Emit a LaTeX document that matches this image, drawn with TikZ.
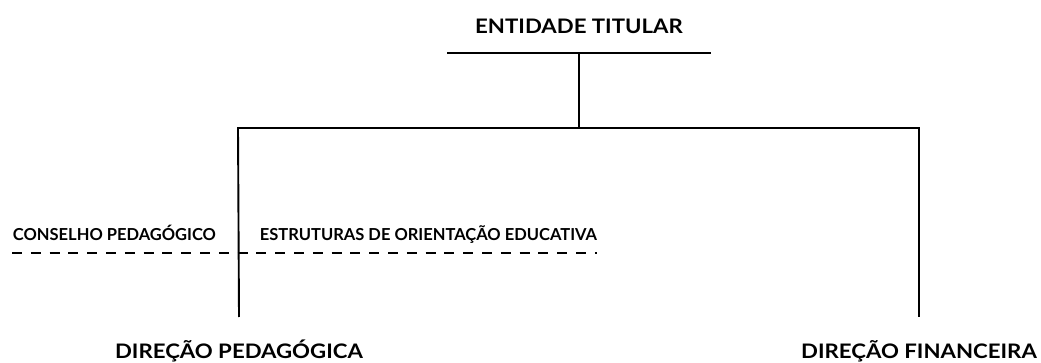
\documentclass[tikz,border=0pt]{standalone}
\usepackage{fontspec}
\setmainfont{Lato}
\newfontfamily\widefont{Lato}[FakeStretch=1.11]
\begin{document}
\begin{tikzpicture}[x=1pt, y=-1pt, line width=1.9pt,
		head/.style={font=\widefont\bfseries\fontsize{20}{21}\selectfont, inner sep=0mm, anchor=base},
		sub/.style={font=\bfseries\fontsize{16.5}{17}\selectfont, inner sep=0mm, anchor=base west},
		dir/.style={font=\widefont\bfseries\fontsize{20}{21}\selectfont, inner sep=0mm, anchor=base},
		hline/.style={line width=2.4pt}]
		\useasboundingbox (0,0) rectangle (1041,363);
		%\draw[help lines] (0,0) grid (1041,363);
		
		\node[head] (tit) at (579, 34) {ENTIDADE TITULAR};
		\coordinate (tl) at (447, 53);
		\coordinate (tr) at (711, 53);
		\coordinate (tm) at (579, 53);
		\coordinate (hm) at (579, 128);
		\coordinate (hl) at (238, 128);
		\coordinate (hr) at (919, 128);
		
		\node[sub] (cons) at (12, 241) {CONSELHO PEDAGÓGICO};
		\node[sub] (estr) at (259, 241) {ESTRUTURAS DE ORIENTAÇÃO EDUCATIVA};
		\coordinate (dl) at (12, 253);
		\coordinate (dr) at (597, 253);
		
		\foreach \n\s\x in {1/DIREÇÃO PEDAGÓGICA/239, 2/DIREÇÃO FINANCEIRA/919} {
			\node[dir] (d\n) at (\x, 358) {\s};
			\coordinate (e\n) at (\x, 317);
		}
		
		\draw[hline] (tl) -- (tr);
		\draw (tm) -- (hm);
		\draw[hline] ([xshift=-0.95pt]hl) -- ([xshift=0.95pt]hr);
		\draw (hl) -- (e1);
		\draw (hr) -- (e2);
		\draw[line width=1.4pt, dash pattern=on 10pt off 8.8pt] (dl) -- (dr);
	\end{tikzpicture}
\end{document}
